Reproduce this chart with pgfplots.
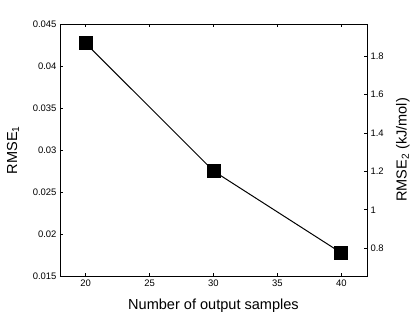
\documentclass[border=0pt]{standalone}
\usepackage{fontspec}
\setmainfont{Liberation Sans}
\usepackage{pgfplots}
\pgfplotsset{compat=1.18}
\begin{document}
\begin{tikzpicture}
\path[use as bounding box] (-60bp,-36bp) rectangle (355bp,276bp);
\pgfplotsset{
  every axis/.append style={
    scale only axis, width=307bp, height=252bp,
    at={(0,0)}, anchor=south west,
    /pgf/number format/assume math mode=true,
    tick align=inside, major tick length=3bp,
    tick style={black, line width=0.6pt},
    axis line style={line width=0.8pt},
    tick label style={font=\fontsize{9.5}{10}\selectfont},
    label style={font=\fontsize{14.6}{15}\selectfont},
    xmin=18, xmax=42,
  }
}
\begin{axis}[
  ymin=0.015, ymax=0.045,
  xtick={20,25,30,35,40},
  ytick={0.015,0.02,0.025,0.03,0.035,0.04,0.045},
  scaled y ticks=false,
  yticklabel style={/pgf/number format/fixed, /pgf/number format/precision=3},
  ytick pos=left, xtick pos=both,
  xlabel={Number of output samples},
  ylabel={RMSE\textsubscript{1}},
  xlabel style={at={(axis description cs:0.5,-0.119)}, anchor=center},
  ylabel style={at={(axis description cs:-0.153,0.5)}, anchor=center},
]
\addplot[black, line width=1pt, mark=square*, mark size=6.5bp, mark options={fill=black}]
coordinates {(20,0.04272) (30,0.0275) (40,0.01774)};
\end{axis}
\begin{axis}[
  ymin=0.6555, ymax=1.9665,
  xtick=\empty,
  ytick={0.8,1,1.2,1.4,1.6,1.8},
  ytick pos=right, yticklabel pos=right,
  ylabel={RMSE\textsubscript{2} (kJ/mol)},
  ylabel style={at={(axis description cs:1.117,0.5)}, anchor=center},
]
\end{axis}
\end{tikzpicture}
\end{document}
